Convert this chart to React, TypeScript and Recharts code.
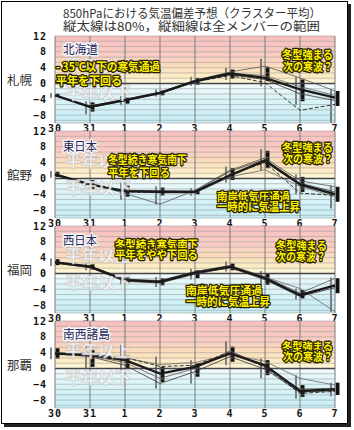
import React from 'react'
import {
  ComposedChart, Line, Bar, XAxis, YAxis, ReferenceArea, ReferenceLine,
} from 'recharts'

const JP = '"Noto Sans CJK JP", "Noto Sans", sans-serif'
const MONO = '"DejaVu Sans Mono", monospace'

const DAYS = ['30', '31', '1', '2', '3', '4', '5', '6', '7']
const Y_TICKS = [12, 8, 4, 0, -4, -8]
const GRID_Y = [12, 10.67, 9.33, 8, 6.67, 5.33, 4, 2.67, 1.33, -1.33, -2.67, -4, -5.33, -6.67, -8, -9.33, -10]

// 札幌
const SAPPORO_MEAN = [-3.0, -5.9, -4.2, -2.4, 0.6, 2.5, 1.4, -1.5, -3.6]
const SAPPORO_M1 = [-3.0, -5.7, -4.0, -2.2, 0.8, 2.9, 4.4, 1.4, -1.9]
const SAPPORO_M2 = [-3.0, -6.1, -4.4, -2.6, 0.4, 2.2, 1.0, -2.6, -4.3]
const SAPPORO_M3 = [-3.0, -5.8, -4.1, -2.3, 0.7, 2.6, 2.0, -0.8, -3.0]
const SAPPORO_DASH = [-3.0, -6.0, -4.3, -2.5, 0.4, 2.0, 0.2, -6.8, -5.3]
const SAPPORO_LO80 = [-3.4, -7.1, -5.1, -3.0, -0.3, 1.2, 0.6, -4.5, -5.7]
const SAPPORO_HI80 = [-2.6, -4.8, -3.6, -1.8, 1.4, 3.5, 4.2, 1.0, -1.9]
const SAPPORO_MIN = [-3.6, -7.8, -5.5, -3.3, -0.6, 0.9, -0.7, -5.5, -10.0]
const SAPPORO_MAX = [-2.4, -4.5, -3.2, -1.5, 1.7, 4.0, 6.2, 1.6, -1.5]

// 館野
const TATENO_MEAN = [1.0, -1.5, -3.2, -3.4, -3.4, 0.8, 4.5, -1.5, -4.0]
const TATENO_M1 = [1.0, -1.3, -3.8, -6.5, -3.0, 2.1, 5.2, -0.6, -2.1]
const TATENO_M2 = [1.0, -1.7, -3.0, -3.1, -3.2, 1.8, 4.8, -1.2, -3.4]
const TATENO_M3 = [1.0, -1.4, -3.3, -3.6, -3.7, 0.4, 2.2, -2.0, -4.6]
const TATENO_DASH = [1.0, -1.6, -3.4, -3.6, -3.5, 1.0, 4.0, -3.7, -4.3]
const TATENO_LO80 = [0.4, -2.7, -4.6, -4.3, -4.0, -0.4, 2.6, -3.4, -5.9]
const TATENO_HI80 = [1.7, -0.4, -1.8, -2.3, -2.8, 2.6, 7.0, 0.4, -2.1]
const TATENO_MIN = [0.2, -3.2, -5.4, -6.6, -4.4, -1.0, 2.0, -4.0, -7.6]
const TATENO_MAX = [1.9, 0.2, -1.0, -2.0, -2.4, 3.0, 7.4, 1.0, -1.8]

// 福岡
const FUKUOKA_MEAN = [2.8, 1.7, -1.7, -2.1, 0.2, 1.7, -1.2, -5.5, -3.0]
const FUKUOKA_M1 = [3.0, 1.9, -1.4, -1.8, 0.5, 2.0, -0.8, -5.0, -1.2]
const FUKUOKA_M2 = [2.6, 1.5, -2.0, -2.4, -0.2, 1.5, -1.6, -5.8, -3.6]
const FUKUOKA_M3 = [2.8, 1.6, -1.8, -2.0, 0.3, 1.3, -0.9, -3.8, -9.7]
const FUKUOKA_DASH = [2.9, 1.8, -1.5, -2.3, 0.0, 1.8, -1.4, -5.2, -3.2]
const FUKUOKA_LO80 = [2.1, 1.0, -2.5, -3.0, -1.2, 0.8, -2.9, -6.3, -5.0]
const FUKUOKA_HI80 = [3.6, 2.3, -1.0, -1.2, 0.8, 2.5, 0.0, -4.2, -1.2]
const FUKUOKA_MIN = [1.9, 0.8, -2.8, -3.4, -1.5, 0.5, -3.3, -6.6, -9.7]
const FUKUOKA_MAX = [3.8, 2.5, -0.8, -0.9, 1.2, 3.0, 0.6, -3.8, -1.0]

// 那覇
const NAHA_MEAN = [3.8, 3.4, 2.1, -1.3, 0.4, 3.8, 0.8, -5.7, -5.3]
const NAHA_M1 = [3.9, 3.2, 1.5, -2.5, 0.0, 4.5, 0.4, -5.2, -5.0]
const NAHA_M2 = [3.7, 3.0, 0.8, -3.8, -0.8, 3.0, -0.2, -6.0, -5.6]
const NAHA_M3 = [3.9, 3.6, 2.6, 1.0, 1.5, 3.5, 1.8, -2.5, -4.2]
const NAHA_DASH = [3.8, 3.5, 2.8, 0.5, 0.8, 4.2, 0.3, -6.3, -5.8]
const NAHA_LO80 = [2.5, 0.4, 0.1, -3.4, -2.1, 1.7, -1.7, -7.2, -6.7]
const NAHA_HI80 = [5.1, 5.1, 3.2, 0.4, 1.3, 5.5, 2.1, -4.2, -3.6]
const NAHA_MIN = [2.3, -0.8, -1.0, -5.1, -3.8, 0.8, -2.5, -7.6, -7.0]
const NAHA_MAX = [5.3, 5.9, 5.9, 3.0, 2.1, 6.9, 2.5, -1.7, -3.6]

type Series = {
  mean: number[]; m1: number[]; m2: number[]; m3: number[]; dash: number[]
  lo80: number[]; hi80: number[]; min: number[]; max: number[]
}

const buildRows = (s: Series) =>
  DAYS.map((_, i) => ({
    x: i,
    mean: s.mean[i], m1: s.m1[i], m2: s.m2[i], m3: s.m3[i], dash: s.dash[i],
    r80: [s.lo80[i], s.hi80[i]],
    rAll: [s.min[i], s.max[i]],
  }))

const PANELS = [
  { id: 'spr', top: 30, rows: buildRows({ mean: SAPPORO_MEAN, m1: SAPPORO_M1, m2: SAPPORO_M2, m3: SAPPORO_M3, dash: SAPPORO_DASH, lo80: SAPPORO_LO80, hi80: SAPPORO_HI80, min: SAPPORO_MIN, max: SAPPORO_MAX }) },
  { id: 'tat', top: 125, rows: buildRows({ mean: TATENO_MEAN, m1: TATENO_M1, m2: TATENO_M2, m3: TATENO_M3, dash: TATENO_DASH, lo80: TATENO_LO80, hi80: TATENO_HI80, min: TATENO_MIN, max: TATENO_MAX }) },
  { id: 'fuk', top: 220, rows: buildRows({ mean: FUKUOKA_MEAN, m1: FUKUOKA_M1, m2: FUKUOKA_M2, m3: FUKUOKA_M3, dash: FUKUOKA_DASH, lo80: FUKUOKA_LO80, hi80: FUKUOKA_HI80, min: FUKUOKA_MIN, max: FUKUOKA_MAX }) },
  { id: 'nah', top: 315, rows: buildRows({ mean: NAHA_MEAN, m1: NAHA_M1, m2: NAHA_M2, m3: NAHA_M3, dash: NAHA_DASH, lo80: NAHA_LO80, hi80: NAHA_HI80, min: NAHA_MIN, max: NAHA_MAX }) },
]

const STATIONS = [
  { name: '札幌', y: 84.5 },
  { name: '館野', y: 179.5 },
  { name: '福岡', y: 274.5 },
  { name: '那覇', y: 369.5 },
]

const REGIONS = [
  { text: '北海道', x: 63, y: 53.5, len: 35 },
  { text: '東日本', x: 63, y: 150.5, len: 34 },
  { text: '西日本', x: 63, y: 244.5, len: 34 },
  { text: '南西諸島', x: 63, y: 338.5, len: 47 },
]

const NOTES = [
  { text: '- 35℃以下の寒気通過', x: 56, y: 71, len: 104 },
  { text: '平年を下回る', x: 56, y: 84.5, len: 66 },
  { text: '冬型強まる', x: 282, y: 59.2, len: 51 },
  { text: '次の寒波？', x: 283, y: 70.5, len: 50 },

  { text: '冬型続き寒気南下', x: 108, y: 164.2, len: 79 },
  { text: '平年を下回る', x: 108, y: 177.2, len: 62 },
  { text: '冬型強まる', x: 282, y: 152.2, len: 51 },
  { text: '次の寒波？', x: 283, y: 163.2, len: 50 },
  { text: '南岸低気圧通過', x: 217, y: 200.5, len: 73 },
  { text: '一時的に気温上昇', x: 217, y: 211.2, len: 83 },

  { text: '冬型続き寒気南下', x: 115, y: 249.2, len: 83 },
  { text: '平年をやや下回る', x: 115, y: 259.2, len: 83 },
  { text: '冬型強まる', x: 276, y: 250, len: 51 },
  { text: '次の寒波？', x: 276, y: 261, len: 50 },
  { text: '南岸低気圧通過', x: 186, y: 295.2, len: 76 },
  { text: '一時的に気温上昇', x: 186, y: 306, len: 84 },

  { text: '冬型強まる', x: 282, y: 351, len: 51 },
  { text: '次の寒波？', x: 283, y: 361.3, len: 50 },
]

const WATERMARK = {
  position: 'insideLeft' as const,
  offset: 10,
  fontFamily: JP,
  fontWeight: 700,
  fontSize: 16.5,
  fill: '#ffffff',
  fillOpacity: 0.85,
  stroke: '#b4b4b4',
  strokeOpacity: 0.55,
  strokeWidth: 0.9,
}

const fmtY = (v: number) => (v < 0 ? `−${Math.abs(v)}` : `${v}`)

function Panel({ id, top, rows }: { id: string; top: number; rows: ReturnType<typeof buildRows> }) {
  return (
    <div style={{ position: 'absolute', left: 0, top }}>
      <ComposedChart width={354} height={105} data={rows} margin={{ top: 6, right: 19, bottom: 0, left: 0 }}>
        <defs>
          <linearGradient id={`warm-${id}`} x1="0" y1="0" x2="0" y2="1">
            <stop offset="0%" stopColor="#f7bfc0" />
            <stop offset="40%" stopColor="#f9cdc2" />
            <stop offset="65%" stopColor="#fbdcbc" />
            <stop offset="88%" stopColor="#fdefc6" />
            <stop offset="100%" stopColor="#fff8e0" />
          </linearGradient>
          <linearGradient id={`cold-${id}`} x1="0" y1="0" x2="0" y2="1">
            <stop offset="0%" stopColor="#f2fbfc" />
            <stop offset="30%" stopColor="#def5f8" />
            <stop offset="100%" stopColor="#c5edf5" />
          </linearGradient>
        </defs>
        <XAxis
          type="number"
          dataKey="x"
          domain={[0, 8]}
          ticks={[0, 1, 2, 3, 4, 5, 6, 7, 8]}
          interval={0}
          tickFormatter={(i: number) => DAYS[i]}
          axisLine={false}
          tickLine={false}
          tickSize={0}
          tickMargin={2}
          height={12}
          tick={{ fontSize: 10, fontFamily: MONO, fontWeight: 700, fill: '#111', letterSpacing: 1 }}
        />
        <YAxis
          domain={[-10, 12]}
          ticks={Y_TICKS}
          interval={0}
          tickFormatter={fmtY}
          axisLine={false}
          tickLine={false}
          tickSize={0}
          tickMargin={8}
          width={55}
          tick={{ fontSize: 10, fontFamily: MONO, fontWeight: 700, fill: '#111', letterSpacing: 1 }}
        />
        <YAxis yAxisId="r80" hide domain={[-10, 12]} />
        <YAxis yAxisId="rall" hide domain={[-10, 12]} />

        <ReferenceArea y1={0} y2={12} fill={`url(#warm-${id})`} fillOpacity={1} stroke="none" />
        <ReferenceArea y1={-10} y2={0} fill={`url(#cold-${id})`} fillOpacity={1} stroke="none" />

        {GRID_Y.map((v) => (
          <ReferenceLine key={`h${v}`} y={v} stroke="#9a9a9a" strokeOpacity={0.55} strokeWidth={1} />
        ))}
        {DAYS.map((_, i) => (
          <ReferenceLine key={`v${i}`} x={i} stroke="#7a7a7a" strokeWidth={1} />
        ))}
        <ReferenceLine y={0} stroke="#444" strokeWidth={1.5} />

        <ReferenceLine y={4.3} stroke="none" label={{ value: '平年以上', ...WATERMARK }} />
        <ReferenceLine y={-2.5} stroke="none" label={{ value: '平年以下', ...WATERMARK }} />

        <Line dataKey="m1" stroke="#555" strokeWidth={0.8} dot={false} isAnimationActive={false} />
        <Line dataKey="m2" stroke="#333" strokeWidth={0.8} dot={false} isAnimationActive={false} />
        <Line dataKey="m3" stroke="#666" strokeWidth={0.8} dot={false} isAnimationActive={false} />
        <Line dataKey="dash" stroke="#222" strokeWidth={0.9} strokeDasharray="4 2" dot={false} isAnimationActive={false} />
        <Line dataKey="mean" stroke="#1a1a1a" strokeWidth={2.4} dot={false} isAnimationActive={false} />

        <Bar yAxisId="rall" dataKey="rAll" barSize={1} fill="#111" isAnimationActive={false} />
        <Bar yAxisId="r80" dataKey="r80" barSize={4} fill="#111" isAnimationActive={false} />
      </ComposedChart>
    </div>
  )
}

export default function App() {
  return (
    <div style={{ position: 'absolute', left: 0, top: 0, width: 354, height: 430, background: '#fff' }}>
      <div style={{
        position: 'absolute', left: 1, top: 1, width: 347, height: 423, boxSizing: 'border-box',
        border: '1px solid #000', boxShadow: '3px 3px 0 #222',
      }} />
      {PANELS.map((p) => <Panel key={p.id} id={p.id} top={p.top} rows={p.rows} />)}
      <svg width={354} height={430} style={{ position: 'absolute', left: 0, top: 0, pointerEvents: 'none' }}>
        <text x={63} y={17.5} fontFamily={JP} fontSize={12} fill="#333" textLength={258} lengthAdjust="spacingAndGlyphs">
          850hPaにおける気温偏差予想（クラスター平均）
        </text>
        <text x={63} y={31} fontFamily={JP} fontSize={12} fill="#333" textLength={257} lengthAdjust="spacingAndGlyphs">
          縦太線は80%，縦細線は全メンバーの範囲
        </text>
        {STATIONS.map((s) => (
          <text key={s.name} x={7} y={s.y} fontFamily={JP} fontSize={12.5} fill="#333" textLength={25} lengthAdjust="spacingAndGlyphs">
            {s.name}
          </text>
        ))}
        {REGIONS.map((r) => (
          <text key={r.text} x={r.x} y={r.y} fontFamily={JP} fontSize={12} fill="#1f2660" stroke="#f6f6f6" strokeWidth={3}
            paintOrder="stroke" strokeLinejoin="round" textLength={r.len} lengthAdjust="spacingAndGlyphs">
            {r.text}
          </text>
        ))}
        {NOTES.map((n, i) => (
          <text key={i} x={n.x} y={n.y} fontFamily={JP} fontSize={11.5} fontWeight={700} fill="#fff200" stroke="#262000"
            strokeWidth={2.6} paintOrder="stroke" strokeLinejoin="round" textLength={n.len} lengthAdjust="spacingAndGlyphs">
            {n.text}
          </text>
        ))}
      </svg>
    </div>
  )
}
